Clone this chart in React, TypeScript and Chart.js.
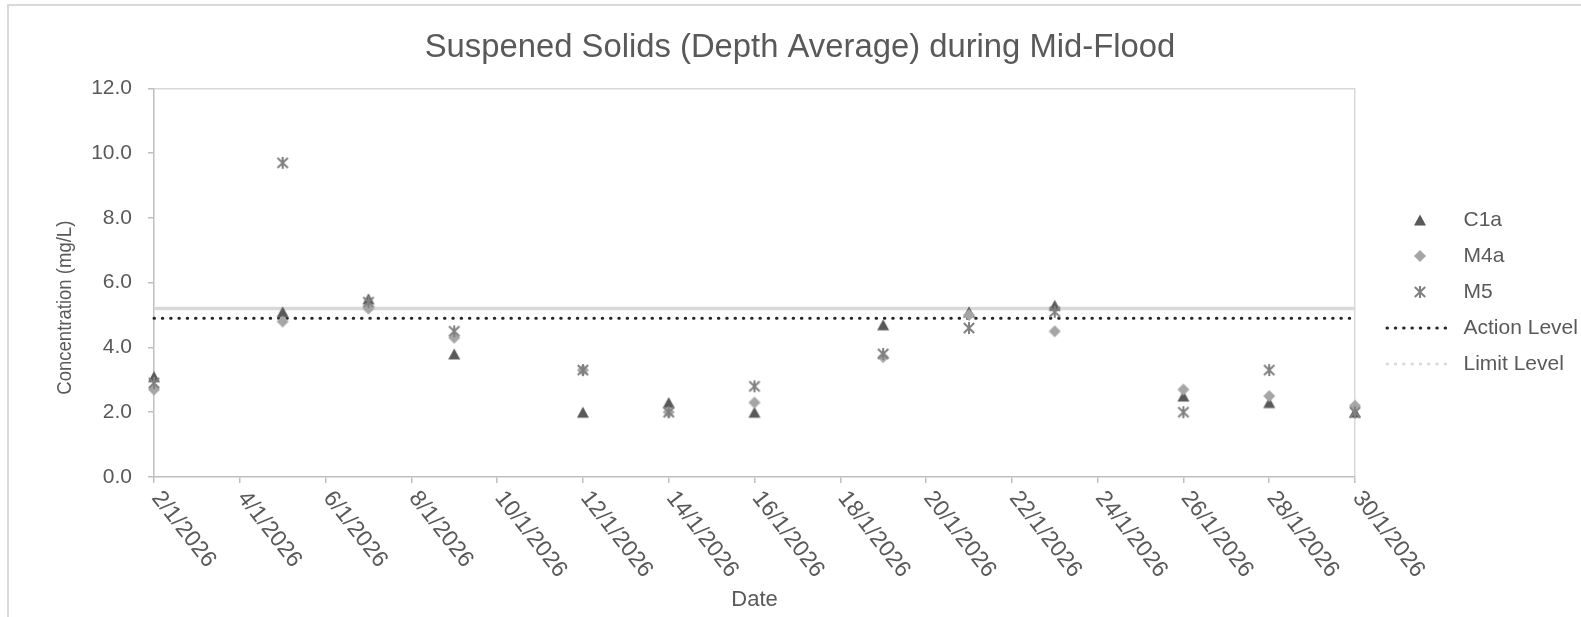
import { useEffect, useRef } from 'react';
import { Chart, registerables } from 'chart.js';

Chart.register(...registerables);

// ---- data ----
const CHART_TITLE = 'Suspened Solids (Depth Average) during Mid-Flood';
const X_TITLE = 'Date';
const Y_TITLE = 'Concentration (mg/L)';

const SAMPLE_DAYS = [2, 5, 7, 9, 12, 14, 16, 19, 21, 23, 26, 28, 30];
const C1A_VALUES = [3.1, 5.1, 5.5, 3.8, 2.0, 2.3, 2.0, 4.7, 5.1, 5.3, 2.5, 2.3, 2.0];
const M4A_VALUES = [2.7, 4.8, 5.2, 4.3, 3.3, 2.0, 2.3, 3.7, 5.0, 4.5, 2.7, 2.5, 2.2];
const M5_VALUES = [2.9, 9.7, 5.4, 4.5, 3.3, 2.0, 2.8, 3.8, 4.6, 5.1, 2.0, 3.3, 2.0];

const ACTION_LEVEL = 4.9;
const LIMIT_LEVEL = 5.2;

const SERIES_NAMES = ['C1a', 'M4a', 'M5', 'Action Level', 'Limit Level'];

const X_MIN = 2;
const X_MAX = 30;
const X_STEP = 2;
const Y_MIN = 0;
const Y_MAX = 12;
const Y_STEP = 2;
const MONTH = 1;
const YEAR = 2026;

const dateLabel = (d: number) => `${d}/${MONTH}/${YEAR}`;

// ---- styles ----
const FONT = "'Liberation Sans', Arial, sans-serif";
const TEXT = '#595959';
const C1A_COLOR = '#595959';
const M4A_COLOR = '#a6a6a6';
const M5_COLOR = '#808080';
const ACTION_COLOR = '#262626';
const LIMIT_COLOR = '#d9d9d9';
const AXIS_COLOR = '#bfbfbf';
const FRAME_COLOR = '#d9d9d9';
const X_LABEL_ANGLE = 52;
const Y_TITLE_LENGTH = 174;

function makeMarker(kind: string): HTMLCanvasElement {
  const c = document.createElement('canvas');
  c.width = 14;
  c.height = 14;
  const g = c.getContext('2d')!;
  if (kind === 'triangle') {
    g.fillStyle = C1A_COLOR;
    g.beginPath();
    g.moveTo(7, 1.5);
    g.lineTo(13, 12.5);
    g.lineTo(1, 12.5);
    g.closePath();
    g.fill();
  } else if (kind === 'diamond') {
    g.fillStyle = M4A_COLOR;
    g.beginPath();
    g.moveTo(7, 1);
    g.lineTo(13, 7);
    g.lineTo(7, 13);
    g.lineTo(1, 7);
    g.closePath();
    g.fill();
  } else {
    g.strokeStyle = M5_COLOR;
    g.lineWidth = 2;
    g.lineCap = 'butt';
    g.beginPath();
    g.moveTo(1.8, 2);
    g.lineTo(12.2, 12);
    g.moveTo(12.2, 2);
    g.lineTo(1.8, 12);
    g.moveTo(7, 1);
    g.lineTo(7, 13);
    g.stroke();
  }
  return c;
}

// rotated date labels (clockwise) and the vertical axis title
const axisText = {
  id: 'axisText',
  afterDraw(chart: any) {
    const xs = chart.scales.x;
    const ys = chart.scales.y;
    const ctx = chart.ctx;
    ctx.save();
    ctx.fillStyle = TEXT;
    ctx.font = `23px ${FONT}`;
    ctx.textAlign = 'left';
    ctx.textBaseline = 'middle';
    for (const t of xs.ticks) {
      const px = xs.getPixelForValue(t.value);
      ctx.save();
      ctx.translate(px + 2, xs.top + 17);
      ctx.rotate((X_LABEL_ANGLE * Math.PI) / 180);
      ctx.fillText(dateLabel(t.value), 0, 0);
      ctx.restore();
    }
    // y title (narrow face), centred a little below the middle of the axis
    ctx.font = `21px ${FONT}`;
    ctx.textAlign = 'center';
    const w = ctx.measureText(Y_TITLE).width;
    ctx.translate(65, (ys.top + ys.bottom) / 2 + 25);
    ctx.rotate(-Math.PI / 2);
    ctx.scale(Y_TITLE_LENGTH / w, 1);
    ctx.fillText(Y_TITLE, 0, 0);
    ctx.restore();
  },
};

export default function App() {
  const ref = useRef<HTMLCanvasElement>(null);

  useEffect(() => {
    const canvas = ref.current!;
    const tri = makeMarker('triangle');
    const dia = makeMarker('diamond');
    const star = makeMarker('star');

    const pts = (vals: number[]) => SAMPLE_DAYS.map((d, i) => ({ x: d, y: vals[i] }));
    const level = (v: number) => [
      { x: X_MIN, y: v },
      { x: X_MAX, y: v },
    ];

    const dotDash = [0.5, 7.8];

    const datasets: any[] = [
      { label: SERIES_NAMES[0], data: pts(C1A_VALUES), pointStyle: tri, showLine: false, order: 3, clip: false, legendColor: C1A_COLOR },
      { label: SERIES_NAMES[1], data: pts(M4A_VALUES), pointStyle: dia, showLine: false, order: 2, clip: false, legendColor: M4A_COLOR },
      { label: SERIES_NAMES[2], data: pts(M5_VALUES), pointStyle: star, showLine: false, order: 1, clip: false, legendColor: M5_COLOR },
      {
        label: SERIES_NAMES[3], data: level(ACTION_LEVEL), showLine: true, pointRadius: 0,
        borderColor: ACTION_COLOR, borderWidth: 3, borderDash: dotDash, borderCapStyle: 'round',
        order: 4, clip: false, legendColor: ACTION_COLOR, legendDash: dotDash,
      },
      {
        label: SERIES_NAMES[4], data: level(LIMIT_LEVEL), showLine: true, pointRadius: 0,
        borderColor: LIMIT_COLOR, borderWidth: 3.5, order: 5, clip: false,
        legendColor: LIMIT_COLOR, legendDash: dotDash,
      },
    ];

    const chart = new Chart(canvas, {
      type: 'scatter',
      data: { datasets },
      plugins: [axisText],
      options: {
        animation: false,
        responsive: false,
        events: [],
        layout: { padding: { left: 19, right: 0, top: 0, bottom: 0 } },
        scales: {
          x: {
            type: 'linear',
            min: X_MIN,
            max: X_MAX,
            afterFit: (s: any) => { s.height = 140; },
            ticks: { display: false, stepSize: X_STEP },
            grid: {
              drawOnChartArea: true,
              color: (c: any) => (c.tick && c.tick.value === X_MAX ? FRAME_COLOR : 'rgba(0,0,0,0)'),
              lineWidth: 1.5,
              tickColor: AXIS_COLOR,
              tickLength: 6,
              tickWidth: 1.5,
            },
            border: { display: true, color: AXIS_COLOR, width: 1.5 },
            title: { display: true, text: X_TITLE, color: TEXT, font: { family: FONT, size: 22 }, padding: { top: 4, bottom: 4 } },
          },
          y: {
            type: 'linear',
            min: Y_MIN,
            max: Y_MAX,
            afterFit: (s: any) => { s.width = 135; },
            ticks: {
              stepSize: Y_STEP,
              color: TEXT,
              font: { family: FONT, size: 21 },
              padding: 16,
              callback: (v: any) => Number(v).toFixed(1),
            },
            grid: {
              drawOnChartArea: true,
              color: (c: any) => (c.tick && c.tick.value === Y_MAX ? FRAME_COLOR : 'rgba(0,0,0,0)'),
              lineWidth: 1.5,
              tickColor: AXIS_COLOR,
              tickLength: 6,
              tickWidth: 1.5,
            },
            border: { display: true, color: AXIS_COLOR, width: 1.5 },
            title: { display: false },
          },
          gap: {
            type: 'linear',
            position: 'right',
            min: 0,
            max: 1,
            afterFit: (s: any) => { s.width = 17; },
            ticks: { display: false },
            grid: { display: false },
            border: { display: false },
          },
        },
        plugins: {
          title: {
            display: true,
            text: CHART_TITLE,
            color: TEXT,
            font: { family: FONT, size: 32.8, weight: 'normal' },
            padding: { top: 28, bottom: 21 },
          },
          tooltip: { enabled: false },
          legend: {
            position: 'right',
            align: 'start',
            maxWidth: 209,
            title: { display: true, text: '', font: { size: 10 }, padding: { top: 0, bottom: 182.5 } },
            labels: {
              usePointStyle: true,
              pointStyleWidth: 66,
              boxHeight: 10,
              padding: 15,
              color: TEXT,
              font: { family: FONT, size: 21 },
              generateLabels: (ch: any) =>
                ch.data.datasets.map((ds: any, i: number) => ({
                  text: ds.label,
                  datasetIndex: i,
                  hidden: false,
                  fontColor: TEXT,
                  fillStyle: ds.legendColor,
                  strokeStyle: ds.legendColor,
                  lineWidth: ds.showLine ? 3 : 0,
                  lineDash: ds.showLine ? ds.legendDash : [],
                  lineCap: 'round',
                  pointStyle: ds.showLine ? 'line' : ds.pointStyle,
                })),
            },
          },
        },
      } as any,
    });

    return () => chart.destroy();
  }, []);

  return (
    <div style={{ position: 'fixed', left: 0, top: 0, width: 1581, height: 617, overflow: 'hidden', background: '#fff' }}>
      <div
        style={{
          position: 'absolute', left: 7, top: 4, width: 1600, height: 700,
          border: `2px solid ${FRAME_COLOR}`, boxSizing: 'border-box',
        }}
      />
      <canvas
        ref={ref}
        width={1581}
        height={617}
        style={{ position: 'absolute', left: 0, top: 0, width: 1581, height: 617 }}
      />
    </div>
  );
}
